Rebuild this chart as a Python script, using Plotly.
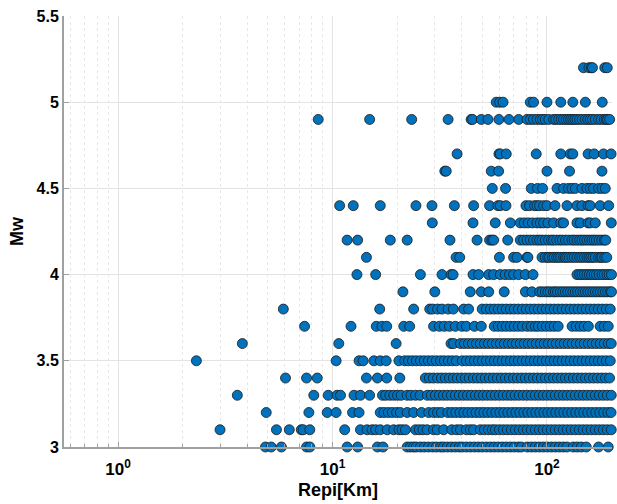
import plotly.graph_objects as go

# Epicentral distance (km) of each record, grouped by moment magnitude
mw_52 = [148, 157, 161, 163, 186, 191]
mw_50 = [58.0, 60.2, 62.4, 83.6, 86.6, 100, 116, 132, 151, 181]
mw_49 = [8.58, 14.9, 23.4, 34.6, 44.3, 45.0, 49.4, 53.1, 59.7, 66.5, 73.8, 80.7,
         83.6, 86.5, 89.8, 93.1, 95.5, 98.2, 102, 107.4, 110, 113.3, 116.5, 119.5,
         123, 126, 129, 132, 135, 138, 142, 146, 150.8, 155, 159, 163, 168, 174,
         179, 185, 189, 191.5, 196]
mw_47 = [38.1, 59.7, 60.6, 64.6, 89.1, 116, 128.4, 132, 155.5, 166, 183.5, 199]
mw_46 = [33.4, 33.9, 55.0, 59.5, 100, 127.4, 180.5]
mw_45 = [55.6, 64.1, 84.5, 90.4, 95.4, 111.4, 119.5, 126, 130.7, 135.5, 145.6,
         153.6, 159.2, 164.8, 174, 180.5, 187]
mw_44 = [10.8, 12.5, 16.7, 24.5, 29.1, 37.0, 45.5, 54.0, 59.1, 60.6, 64.4, 79.8,
         83.0, 87.5, 89.8, 92.4, 96.5, 100, 109, 124, 138, 145.6, 155.5, 159,
         177, 194]
mw_43 = [29.2, 45.2, 57.4, 67.5, 75.1, 78.4, 81.7, 85.5, 89.8, 93.1, 96.5, 101,
         107.4, 116, 119.5, 138, 143, 155.5, 159.2, 168, 199.5]
mw_42 = [11.7, 13.1, 18.6, 22.3, 35.3, 47.2, 54.0, 55.4, 56.4, 65.6, 75.1, 77.8,
         80.7, 83.6, 86.6, 89.8, 92.4, 95.0, 98.2, 101.7, 105, 107.4, 111, 114.8,
         118, 122, 126, 130.7, 134, 138, 142, 145.6, 149.5, 153.6, 158, 162, 166,
         170, 175, 180, 185, 188]
mw_41 = [14.4, 37.7, 39.2, 60.0, 69.9, 72.5, 80.7, 81.5, 94.8, 98.2, 101, 102.8,
         106, 108.1, 111, 113.3, 116, 119.5, 121.7, 123.9, 127, 130.7, 134, 138,
         142, 145.6, 149.5, 153.6, 157, 160.3, 164, 168, 174, 178, 180.5, 186, 190]
mw_40 = [13.0, 15.9, 25.7, 32.4, 35.7, 36.5, 45.2, 48.0, 53.5, 56.4, 60.6, 63.9,
         66.9, 69.9, 73.8, 79.3, 86.1, 138, 142, 145.6, 149.5, 153.6, 157.5, 161.6,
         166, 170, 175, 180.5, 185, 190.4, 195, 200]
mw_39 = [21.3, 30.0, 43.9, 49.4, 53.5, 63.2, 79.3, 85.1, 92.4, 95.0, 98.2, 101,
         103.6, 107, 109.3, 112, 115.4, 118.5, 121.7, 125, 128.4, 132, 135.5, 139,
         143, 147, 150.9, 155, 159.2, 163.5, 168, 172.5, 177.2, 182, 187, 192,
         197.3, 200]
mw_38 = [5.9, 16.6, 23.9, 28.4, 29.3, 30.9, 32.4, 34.6, 36.6, 40.9, 43.1, 49.9,
         52.2, 54.45, 56.8, 59.3, 61.9, 64.6, 67.5, 70.4, 73.5, 76.8, 80.1, 83.6,
         87.3, 91.1, 95.1, 99.3, 103.6, 108.1, 112.8, 117.8, 123.0, 128.4, 134.0,
         139.9, 146.0, 152.5, 159.2, 166.2, 173.4, 181.1, 189.0, 197.3]
mw_37 = [7.41, 12.2, 16.0, 17.0, 17.9, 21.5, 22.9, 29.6, 31.5, 33.2, 35.1, 37.4,
         40.1, 42.1, 45.9, 49.4, 56.8, 59.3, 61.9, 64.6, 67.5, 70.4, 73.5, 76.8,
         80.9, 84.5, 88.2, 91.1, 95.1, 99.3, 103.6, 108.1, 112.8, 131, 137, 143,
         149, 156, 177, 185, 193]
mw_36 = [3.8, 10.7, 19.8, 35.7, 36.7, 39.5, 41.2, 43.0, 44.9, 46.9, 48.9, 51.1,
         53.3, 55.6, 58.1, 60.6, 63.3, 66.1, 69.0, 71.9, 75.1, 78.4, 81.8, 85.4,
         89.2, 93.1, 97.2, 101.4, 105.9, 110.5, 115.4, 120.4, 125.7, 131.2, 137.0,
         143.0, 149.3, 155.9, 162.7, 169.8, 177.2, 185.0, 193.1, 199.4]
mw_35 = [2.32, 10.4, 13.3, 13.9, 15.6, 16.7, 17.8, 20.4, 21.7, 22.6, 23.6, 24.6,
         25.7, 26.8, 28.0, 29.2, 30.5, 31.9, 33.2, 34.7, 36.2, 37.8, 40.3, 42.1,
         43.9, 45.9, 47.9, 50.0, 52.2, 54.5, 56.8, 59.3, 61.9, 64.6, 67.5, 70.4,
         73.5, 76.8, 80.1, 83.6, 87.3, 91.1, 95.1, 99.3, 103.6, 108.1, 112.8, 117.8,
         123.0, 128.4, 134.0, 139.9, 146.0, 152.5, 159.2, 166.2, 173.4, 181.1,
         189.0, 197.3]
mw_34 = [6.04, 7.57, 8.49, 14.4, 16.2, 17.9, 20.6, 27.1, 28.3, 29.5, 30.9, 32.2,
         33.6, 35.1, 36.6, 38.2, 39.9, 41.6, 43.4, 45.4, 47.4, 49.4, 51.6, 53.9,
         56.2, 58.7, 61.3, 64.0, 66.8, 69.8, 72.8, 76.0, 79.3, 82.8, 86.5, 90.3,
         94.2, 98.4, 102.8, 107.3, 112.0, 116.9, 122.0, 127.3, 132.9, 138.8, 144.9,
         151.3, 157.9, 164.8, 172.1, 179.6, 187.5, 195.8]
mw_33 = [0.56, 3.6, 8.18, 9.55, 10.5, 10.9, 12.6, 13.5, 14.9, 17.1, 17.7, 18.5,
         19.3, 20.1, 20.9, 22.3, 23.2, 24.4, 25.6, 27.7, 28.9, 30.2, 31.5, 32.9,
         34.3, 35.8, 37.4, 39.0, 40.8, 42.6, 44.4, 46.4, 48.4, 50.5, 52.7, 55.0,
         57.4, 59.9, 62.5, 65.3, 68.1, 71.1, 74.2, 77.5, 80.9, 84.5, 88.2, 92.1,
         96.1, 100.3, 104.7, 109.3, 114.1, 119.1, 124.3, 129.7, 135.5, 141.4, 147.6,
         154.0, 160.8, 168.0, 175.3, 183.0, 191.0, 199.4]
mw_32 = [4.91, 7.76, 9.45, 10.4, 12.4, 13.3, 16.7, 17.4, 18.2, 19.0, 19.9, 20.7,
         22.3, 23.9, 26.0, 28.1, 29.6, 30.9, 32.2, 34.5, 36.0, 37.6, 39.3, 41.0,
         42.8, 44.7, 46.7, 48.7, 50.8, 53.0, 55.3, 57.8, 60.3, 62.9, 65.7, 68.6,
         71.6, 74.7, 78.0, 81.4, 85.0, 88.7, 92.6, 96.7, 100.9, 105.3, 109.9, 114.8,
         119.8, 125.0, 130.5, 136.2, 142.2, 148.4, 155.0, 161.8, 168.9, 176.3, 184.0,
         192.1, 199.0]
mw_31 = [2.99, 5.48, 6.29, 7.15, 7.3, 7.84, 11.4, 13.5, 14.5, 15.3, 15.9, 16.7,
         18.0, 19.3, 20.4, 21.1, 21.9, 24.4, 25.4, 26.4, 27.6, 29.6, 30.8, 33.0,
         36.0, 38.0, 39.5, 42.1, 43.9, 45.5, 48.9, 51.1, 53.3, 55.6, 57.5, 60.0,
         62.6, 65.3, 68.2, 71.2, 74.3, 77.6, 80.9, 84.5, 88.2, 92.1, 96.1, 100.3,
         104.7, 109.3, 114.1, 119.1, 124.3, 129.7, 135.5, 141.4, 147.6, 154.0,
         160.8, 168.0, 175.3, 183.0, 191.0, 199.4]
mw_30 = [4.87, 5.18, 5.78, 7.57, 7.84, 11.7, 13.1, 16.2, 17.2, 22.3, 23.1, 23.9,
         24.6, 25.7, 26.8, 28.0, 29.3, 30.5, 31.9, 32.9, 34.3, 35.8, 37.4, 39.0,
         40.3, 42.1, 43.9, 45.9, 47.9, 49.9, 52.2, 54.5, 56.8, 59.3, 61.9, 64.6,
         67.5, 70.4, 73.5, 75.9, 80.9, 84.5, 88.2, 92.1, 96.1, 100.3, 104.7, 109.3,
         114.1, 119.1, 124.0, 132.6, 138.4, 144.5, 152.5, 174, 193]

rows = [
    (5.2, mw_52), (5.0, mw_50), (4.9, mw_49), (4.7, mw_47), (4.6, mw_46),
    (4.5, mw_45), (4.4, mw_44), (4.3, mw_43), (4.2, mw_42), (4.1, mw_41),
    (4.0, mw_40), (3.9, mw_39), (3.8, mw_38), (3.7, mw_37), (3.6, mw_36),
    (3.5, mw_35), (3.4, mw_34), (3.3, mw_33), (3.2, mw_32), (3.1, mw_31),
    (3.0, mw_30),
]

repi, mw = [], []
for m, dists in rows:
    repi.extend(dists)
    mw.extend([m] * len(dists))

x_major = [1, 10, 100]
x_major_text = ["10<sup>0</sup>", "10<sup>1</sup>", "10<sup>2</sup>"]
x_minor = [0.6, 0.7, 0.8, 0.9, 2, 3, 4, 5, 6, 7, 8, 9,
           20, 30, 40, 50, 60, 70, 80, 90, 200]
y_ticks = [3, 3.5, 4, 4.5, 5, 5.5]
y_tick_text = ["3", "3.5", "4", "4.5", "5", "5.5"]

FONT = "Liberation Sans, Arial, sans-serif"

fig = go.Figure(
    go.Scatter(
        x=repi, y=mw, mode="markers", cliponaxis=False,
        marker=dict(size=10, color="#0072BD",
                    line=dict(color="#1a1a1a", width=0.8)),
        hoverinfo="x+y",
    )
)

fig.update_layout(
    width=617, height=504,
    margin=dict(l=64, r=5, t=16, b=57),
    paper_bgcolor="white", plot_bgcolor="white",
    showlegend=False,
    font=dict(family=FONT, color="black"),
)

fig.update_xaxes(
    type="log", range=[-0.2518, 2.3032],
    tickmode="array", tickvals=x_major, ticktext=x_major_text,
    tickfont=dict(size=17, weight="bold", family=FONT),
    ticklabelstandoff=6,
    ticks="inside", ticklen=5, tickcolor="#a0a0a0",
    showgrid=True, gridcolor="#e3e3e3", gridwidth=1,
    minor=dict(tickvals=x_minor, ticks="inside", ticklen=3,
               tickcolor="#a0a0a0", showgrid=True,
               gridcolor="#e8e8e8", griddash="dot", gridwidth=1),
    showline=True, linecolor="#a0a0a0", linewidth=2,
    zeroline=False,
    title=dict(text="Repi[Km]", font=dict(size=18, weight="bold", family=FONT),
               standoff=5),
)

fig.update_yaxes(
    range=[3, 5.5],
    tickmode="array", tickvals=y_ticks, ticktext=y_tick_text,
    tickfont=dict(size=16, weight="bold", family=FONT),
    ticks="inside", ticklen=5, tickcolor="#a0a0a0",
    showgrid=True, gridcolor="#e3e3e3", gridwidth=1,
    showline=True, linecolor="#a0a0a0", linewidth=2,
    zeroline=False,
    title=dict(text="Mw", font=dict(size=18, weight="bold", family=FONT),
               standoff=8),
)

fig.write_html("out.html")
